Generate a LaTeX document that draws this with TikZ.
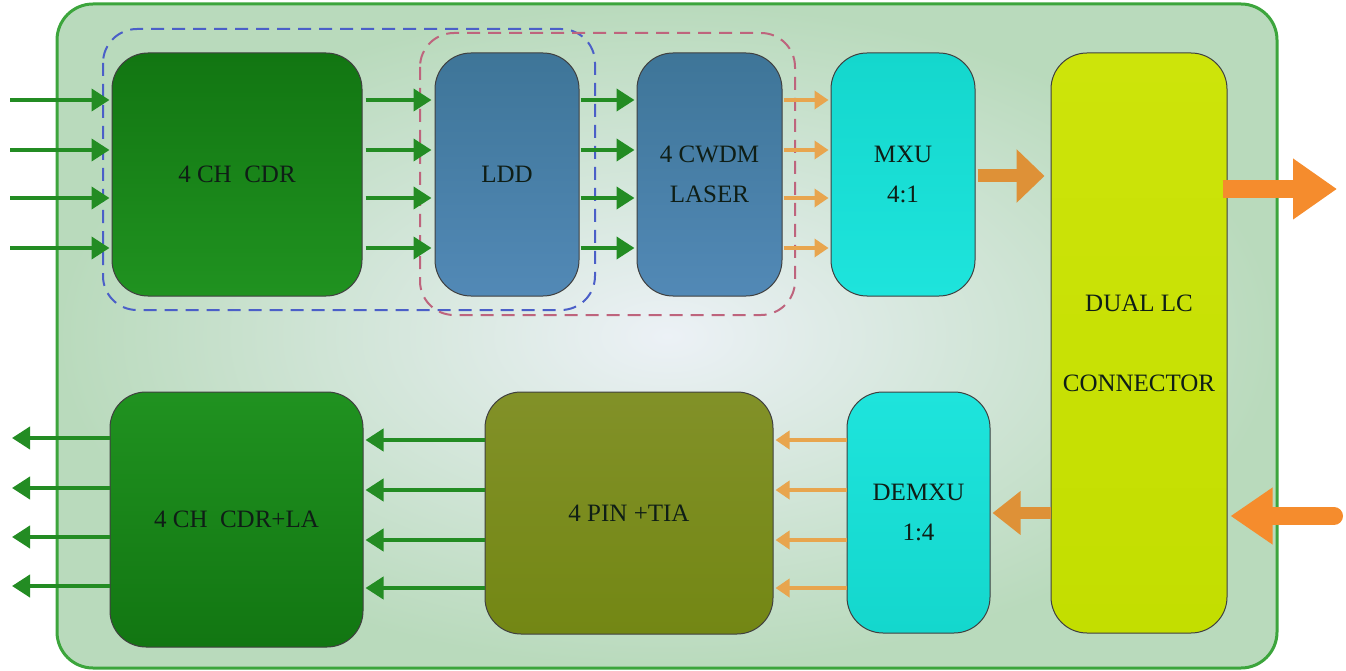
\documentclass[tikz,border=0pt]{standalone}
\usepackage{fontspec}
\setmainfont{Liberation Serif}
\usetikzlibrary{arrows.meta}
\definecolor{frameG}{RGB}{60,165,60}
\definecolor{frameOut}{RGB}{185,218,188}
\definecolor{frameIn}{RGB}{236,241,246}
\definecolor{cdrTop}{RGB}{18,118,18}
\definecolor{cdrBot}{RGB}{32,146,32}
\definecolor{ldTop}{RGB}{62,117,152}
\definecolor{ldBot}{RGB}{82,137,182}
\definecolor{cyanTop}{RGB}{20,215,205}
\definecolor{cyanBot}{RGB}{30,228,220}
\definecolor{yelTop}{RGB}{205,228,10}
\definecolor{yelBot}{RGB}{195,222,0}
\definecolor{olTop}{RGB}{130,145,40}
\definecolor{olBot}{RGB}{115,135,20}
\definecolor{arrG}{RGB}{35,140,35}
\definecolor{arrO}{RGB}{232,165,78}
\definecolor{arrOB}{RGB}{222,145,55}
\definecolor{arrOO}{RGB}{245,140,45}
\definecolor{dashB}{RGB}{75,95,200}
\definecolor{dashR}{RGB}{190,100,125}
\definecolor{txt}{RGB}{15,30,22}
\tikzset{
  blk/.style={draw=black!75, line width=1pt, rounded corners=36pt, inner sep=0pt,
    text=txt, align=center, font=\fontsize{25}{40}\selectfont},
  garr/.style={draw=arrG, line width=4pt, -{Triangle[length=18pt,width=22pt]}},
  oarr/.style={draw=arrO, line width=3.5pt, -{Triangle[length=14pt,width=18pt]}},
  grp/.style={line width=2pt, dash pattern=on 13pt off 8pt, rounded corners=34pt}
}
\begin{document}
\begin{tikzpicture}[x=1pt,y=-1pt]
\useasboundingbox (0,0) rectangle (1346,671);
% outer frame
\shade[inner color=frameIn, outer color=frameOut, rounded corners=36pt]
  (57,4) rectangle (1277,668);
\draw[frameG, line width=3pt, rounded corners=36pt] (57,4) rectangle (1277,668);
% dashed groups
\draw[grp, dashB] (103,29) rectangle (595,310);
\draw[grp, dashR] (420,33) rectangle (795,315);
% blocks
\node[blk, top color=cdrTop, bottom color=cdrBot, minimum width=250pt, minimum height=243pt] (cdr) at (237,174.5) {4 CH\ \ CDR};
\node[blk, top color=ldTop, bottom color=ldBot, minimum width=144pt, minimum height=243pt] (ldd) at (507,174.5) {LDD};
\node[blk, top color=ldTop, bottom color=ldBot, minimum width=145pt, minimum height=243pt] (laser) at (709.5,174.5) {4 CWDM\\LASER};
\node[blk, top color=cyanTop, bottom color=cyanBot, minimum width=144pt, minimum height=243pt] (mxu) at (903,174.5) {MXU\\4:1};
\node[blk, top color=yelTop, bottom color=yelBot, minimum width=176pt, minimum height=580pt] (dual) at (1139,343) {DUAL LC\\[40pt]CONNECTOR};
\node[blk, top color=cdrBot, bottom color=cdrTop, minimum width=253pt, minimum height=255pt] (cdrla) at (236.5,519.5) {4 CH\ \ CDR+LA};
\node[blk, top color=olTop, bottom color=olBot, minimum width=288pt, minimum height=242pt] (pin) at (629,513) {4 PIN +TIA};
\node[blk, top color=cyanBot, bottom color=cyanTop, minimum width=143pt, minimum height=241pt] (demxu) at (918.5,512.5) {DEMXU\\1:4};
% free ends
\foreach \y [count=\i] in {100,150,198,248}{
  \coordinate (in\i) at (10,\y);
  \draw[garr] (in\i) -- ([xshift=-2pt]cdr.west |- in\i);
  \draw[garr] ([xshift=3pt]cdr.east |- in\i) -- ([xshift=-3pt]ldd.west |- in\i);
  \draw[garr] ([xshift=1pt]ldd.east |- in\i) -- ([xshift=-2pt]laser.west |- in\i);
  \draw[oarr] ([xshift=1pt]laser.east |- in\i) -- ([xshift=-2pt]mxu.west |- in\i);
}
\foreach \y [count=\i] in {438,488,537,586}{
  \coordinate (out\i) at (12,\y);
  \draw[garr] (cdrla.west |- out\i) -- (out\i);
}
\foreach \y [count=\i] in {440,490,540,588}{
  \coordinate (r\i) at (0,\y);
  \draw[garr] (pin.west |- r\i) -- ([xshift=2pt]cdrla.east |- r\i);
  \draw[oarr] (demxu.west |- r\i) -- ([xshift=2pt]pin.east |- r\i);
}
% big orange arrows
\coordinate (mx) at (0,176);
\draw[arrOB, line width=13pt, -{Triangle[length=28pt,width=52pt]}]
  ([xshift=2pt]mxu.east |- mx) -- ([xshift=-6pt]dual.west |- mx);
\coordinate (txout) at (1337,189);
\draw[arrOO, line width=18pt, -{Triangle[length=44pt,width=58pt]}]
  ([xshift=-5pt]dual.east |- txout) -- (txout);
\coordinate (rxin) at (1334,516);
\draw[arrOO, line width=18pt, line cap=round, -{Triangle[length=42pt,width=54pt]}]
  (rxin) -- ([xshift=3pt]dual.east |- rxin);
\coordinate (dm) at (0,513);
\draw[arrOB, line width=12pt, -{Triangle[length=28pt,width=42pt]}]
  (dual.west |- dm) -- ([xshift=2pt]demxu.east |- dm);
\end{tikzpicture}
\end{document}
